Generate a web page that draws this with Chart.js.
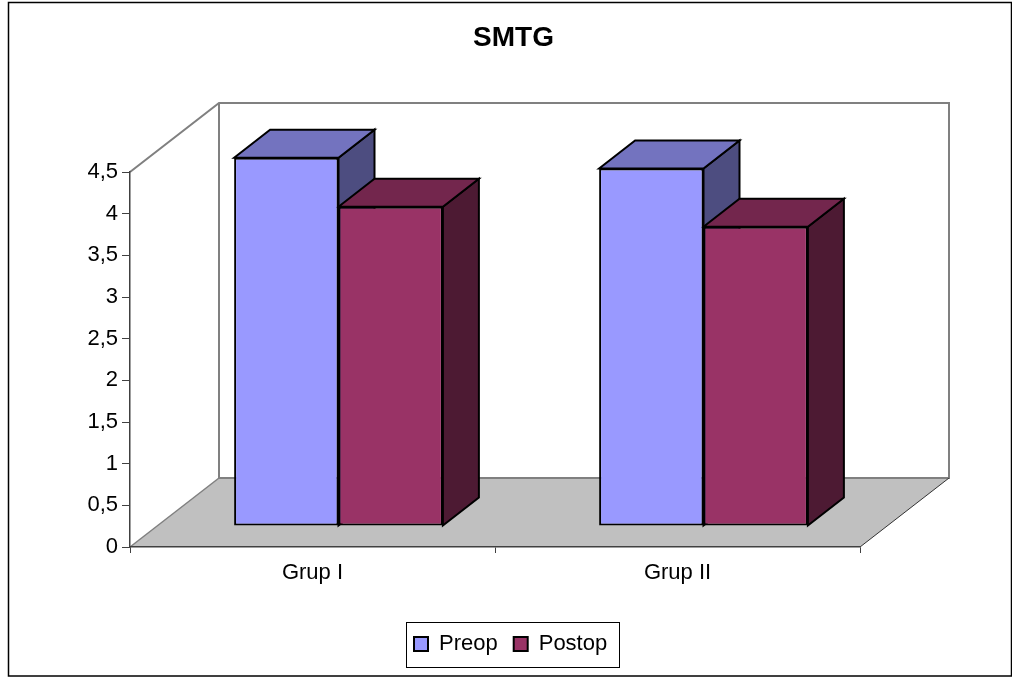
<!DOCTYPE html>
<html lang="tr">

<head>
    <meta charset="utf-8" />
    <title>SMTG</title>
    <script src="https://cdn.jsdelivr.net/npm/chart.js@4/dist/chart.umd.min.js"></script>
    <style>
        html, body { margin: 0; padding: 0; background: #fff; }
        canvas { display: block; }
    </style>
</head>

<body>
    <canvas id="chart" width="1012" height="677"></canvas>

    <script>
        var chartTitle = 'SMTG';
        var categories = ['Grup I', 'Grup II'];
        var preopValues = [4.42, 4.29];
        var postopValues = [3.83, 3.59];

        var preopColors = { front: '#9999FF', top: '#7373BF', side: '#4D4D80' };
        var postopColors = { front: '#993366', top: '#73264D', side: '#4D1A33' };

        // fake 3D: the floor/walls go back by wallDepth, bars stand a bit into the floor
        var wallDepth = { x: 89, y: 69 };
        var barShift = { x: 26, y: 21 };
        var barDepth = { x: 36, y: 28 };

        function poly(ctx, pts, fill, stroke, lineWidth) {
            ctx.beginPath();
            ctx.moveTo(pts[0][0], pts[0][1]);
            for (var i = 1; i < pts.length; i++) ctx.lineTo(pts[i][0], pts[i][1]);
            if (fill) {
                ctx.closePath();
                ctx.fillStyle = fill;
                ctx.fill();
            }
            if (stroke) {
                ctx.strokeStyle = stroke;
                ctx.lineWidth = lineWidth;
                ctx.stroke();
            }
        }

        var scene3d = {
            id: 'scene3d',
            afterLayout: function (chart) {
                // title and legend sit centred on the whole frame, not on the plot
                chart.titleBlock.left = 0;
                chart.titleBlock.right = 1027;
                chart.legend.left = 0;
                chart.legend.right = 812 + chart.legend.lineWidths[0];
            },
            beforeDraw: function (chart) {
                var ctx = chart.ctx, a = chart.chartArea;
                var dx = wallDepth.x, dy = wallDepth.y;
                ctx.save();
                ctx.fillStyle = '#fff';
                ctx.fillRect(0, 0, chart.width, chart.height);
                ctx.strokeStyle = '#000';
                ctx.lineWidth = 1.5;
                ctx.strokeRect(8.5, 2.5, 1003, 673.5);

                poly(ctx, [[a.left, a.bottom], [a.right, a.bottom], [a.right + dx, a.bottom - dy], [a.left + dx, a.bottom - dy]], '#C0C0C0');
                poly(ctx, [[a.left, a.top], [a.left + dx, a.top - dy], [a.right + dx, a.top - dy], [a.right + dx, a.bottom - dy], [a.left + dx, a.bottom - dy], [a.left + dx, a.top - dy]], null, '#808080', 2);
                poly(ctx, [[a.left, a.bottom], [a.left + dx, a.bottom - dy]], null, '#808080', 1.5);
                poly(ctx, [[a.right, a.bottom], [a.right + dx, a.bottom - dy]], null, '#333', 1);
                ctx.restore();
            },
            beforeDatasetsDraw: function (chart) {
                var ctx = chart.ctx;
                ctx.save();
                ctx.translate(barShift.x, -barShift.y);
                // side and top faces first, the flat bars of the library go over them
                chart.data.datasets.forEach(function (ds, i) {
                    var colors = i === 0 ? preopColors : postopColors;
                    chart.getDatasetMeta(i).data.forEach(function (bar) {
                        var l = bar.x - bar.width / 2, r = bar.x + bar.width / 2;
                        var dx = barDepth.x, dy = barDepth.y;
                        poly(ctx, [[r, bar.y], [r + dx, bar.y - dy], [r + dx, bar.base - dy], [r, bar.base]], colors.side, '#000', 2);
                        poly(ctx, [[l, bar.y], [l + dx, bar.y - dy], [r + dx, bar.y - dy], [r, bar.y]], colors.top, '#000', 2);
                    });
                });
            },
            afterDatasetsDraw: function (chart) {
                chart.ctx.restore();
            },
            afterDraw: function (chart) {
                var ctx = chart.ctx, lg = chart.legend;
                ctx.save();
                ctx.strokeStyle = '#000';
                ctx.lineWidth = 1;
                ctx.strokeRect(406.5, Math.round(lg.top) + 5.5, Math.round(lg.lineWidths[0]) + 4, 45);
                ctx.restore();
            }
        };

        new Chart(document.getElementById('chart'), {
            type: 'bar',
            data: {
                labels: categories,
                datasets: [
                    { label: 'Preop', data: preopValues, backgroundColor: preopColors.front, borderColor: '#000', borderWidth: 2, borderSkipped: false, clip: false },
                    { label: 'Postop', data: postopValues, backgroundColor: postopColors.front, borderColor: '#000', borderWidth: 2, borderSkipped: false, clip: false }
                ]
            },
            plugins: [scene3d],
            options: {
                responsive: false,
                animation: false,
                categoryPercentage: 0.572,
                barPercentage: 1,
                layout: { padding: { left: 8, right: 152, top: 0, bottom: 12 } },
                font: { family: '"Liberation Sans", Arial, sans-serif' },
                plugins: {
                    title: {
                        display: true,
                        text: chartTitle,
                        color: '#000',
                        font: { size: 28, weight: 'bold' },
                        padding: { top: 21, bottom: 117.4 }
                    },
                    legend: {
                        position: 'bottom',
                        labels: { boxWidth: 14, boxHeight: 14, padding: 16, color: '#000', font: { size: 22 } }
                    },
                    tooltip: { enabled: false }
                },
                scales: {
                    x: {
                        afterFit: function (scale) { scale.height = 70; },
                        grid: { drawOnChartArea: false, drawTicks: true, tickLength: 6, color: '#404040' },
                        border: { color: '#404040', width: 1.5 },
                        ticks: { color: '#000', font: { size: 22 }, padding: 7, maxRotation: 0 }
                    },
                    y: {
                        min: 0,
                        max: 4.5,
                        afterFit: function (scale) { scale.width = 122; },
                        grid: { drawOnChartArea: false, drawTicks: true, tickLength: 8, color: '#404040' },
                        border: { color: '#404040', width: 1.5 },
                        ticks: {
                            stepSize: 0.5,
                            color: '#000',
                            font: { size: 22 },
                            padding: 4,
                            callback: function (v) { return String(v).replace('.', ','); }
                        }
                    }
                }
            }
        });
    </script>
</body>

</html>
